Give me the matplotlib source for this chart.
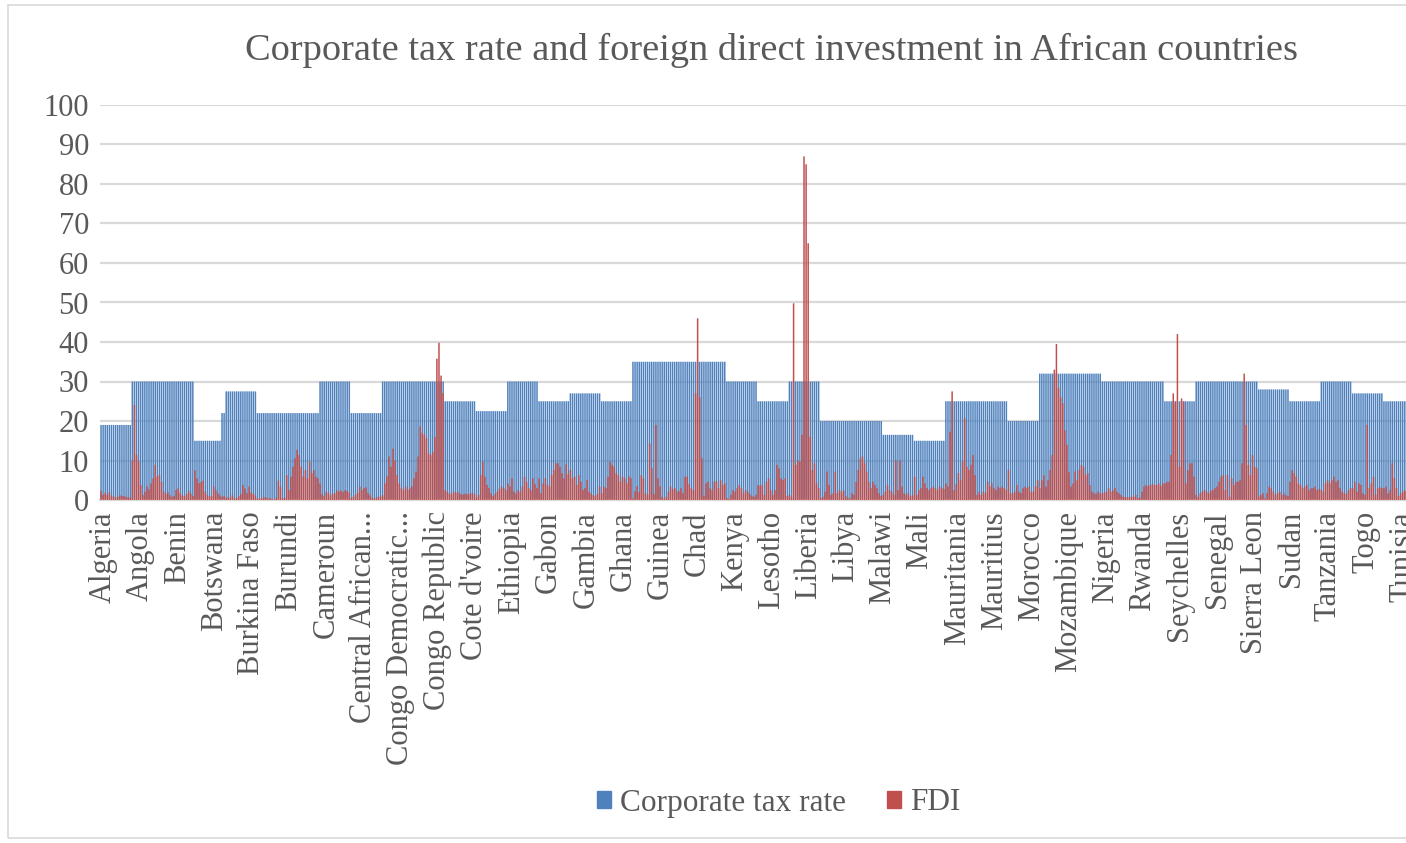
import matplotlib
matplotlib.use('Agg')
import matplotlib.pyplot as plt
from matplotlib.patches import Patch, Rectangle

plt.rcParams['font.family'] = ['Liberation Serif', 'DejaVu Serif']

# one block of 15 yearly bars per country
tax_rate = [
    [19] * 15, [30] * 15, [30] * 15, [15] * 13 + [22] * 2, [27.5] * 15,
    [22] * 15, [22] * 15, [30] * 15, [22] * 15, [30] * 15,
    [30] * 15, [25] * 15, [22.5] * 15, [30] * 15, [25] * 15,
    [27] * 15, [25] * 15, [35] * 15, [35] * 15, [35] * 15,
    [30] * 15, [25] * 15, [30] * 15, [20] * 15, [20] * 15,
    [16.5] * 15, [15] * 15, [25] * 15, [25] * 15, [20] * 15,
    [32] * 15, [32] * 15, [30] * 15, [30] * 15, [25] * 15,
    [30] * 15, [30] * 15, [28] * 15, [25] * 15, [30] * 15,
    [27] * 15, [25] * 15,
]

fdi = [
    [2.3, 1.3, 1.8, 1.3, 2.0, 1.1, 0.9, 0.6, 0.8, 1.2, 1.0, 1.0, 0.8, 0.7, 0.6],
    [10.0, 24.0, 11.4, 9.7, 3.8, 1.3, 2.1, 3.4, 2.7, 4.2, 5.5, 8.9, 5.9, 6.3, 4.6],
    [2.1, 1.5, 2.0, 1.2, 0.8, 1.0, 2.5, 3.0, 1.8, 1.2, 1.0, 1.5, 2.2, 1.6, 1.0],
    [7.5, 5.5, 4.2, 4.6, 4.9, 2.1, 1.3, 0.9, 1.0, 3.4, 2.5, 1.7, 1.2, 0.8, 1.0],
    [0.5, 0.8, 0.6, 1.2, 0.4, 0.5, 1.0, 1.5, 3.8, 2.9, 1.7, 3.4, 1.9, 1.6, 1.2],
    [0.4, 0.3, 0.5, 0.8, 0.6, 0.4, 0.5, 0.3, 0.2, 0.6, 4.9, 3.4, 0.5, 0.6, 6.3],
    [2.5, 5.9, 8.4, 10.5, 12.7, 11.4, 8.4, 5.9, 7.6, 5.5, 9.7, 6.8, 7.6, 5.9, 5.5],
    [4.2, 1.5, 1.0, 2.1, 1.8, 1.2, 1.6, 1.7, 2.4, 2.2, 2.4, 2.0, 2.5, 2.3, 1.9],
    [0.5, 0.8, 1.3, 1.8, 3.4, 2.5, 3.0, 3.2, 1.8, 1.2, 0.5, 0.4, 0.6, 0.8, 0.9],
    [1.2, 4.2, 6.0, 11.0, 8.4, 13.0, 10.0, 6.3, 4.2, 3.0, 2.5, 3.4, 2.6, 3.0, 3.5],
    [5.5, 7.2, 11.0, 18.6, 17.0, 16.5, 15.6, 11.8, 11.4, 12.2, 16.0, 35.8, 39.8, 31.5, 27.0],
    [2.5, 2.1, 1.7, 1.5, 2.1, 1.8, 2.0, 1.6, 1.4, 1.5, 1.6, 1.4, 1.6, 1.8, 1.5],
    [0.7, 1.3, 6.3, 9.7, 5.9, 3.8, 3.0, 1.7, 1.0, 1.5, 2.1, 2.8, 3.4, 3.0, 2.5],
    [4.2, 3.4, 5.5, 2.1, 1.7, 2.5, 2.1, 3.4, 5.9, 4.6, 3.0, 2.5, 5.5, 4.0, 3.0],
    [5.5, 1.7, 4.2, 5.5, 3.8, 3.4, 6.3, 7.6, 9.3, 9.3, 8.4, 6.8, 5.5, 9.0, 6.5],
    [7.6, 5.5, 5.9, 3.8, 6.3, 4.6, 2.5, 3.0, 5.0, 2.1, 1.7, 1.3, 1.0, 1.5, 3.4],
    [1.7, 3.4, 3.0, 5.9, 9.7, 8.9, 8.4, 6.8, 6.3, 4.6, 5.9, 5.5, 4.2, 6.0, 5.5],
    [0.4, 2.2, 3.5, 2.0, 6.3, 5.5, 1.7, 1.3, 14.3, 8.0, 1.5, 19.0, 5.5, 3.4, 0.8],
    [0.3, 0.8, 2.1, 3.4, 2.8, 3.0, 2.1, 2.3, 3.0, 1.7, 5.9, 5.9, 4.0, 3.0, 2.5],
    [27.0, 46.0, 26.0, 10.6, 1.0, 4.2, 4.6, 3.0, 2.5, 4.6, 4.8, 3.0, 5.0, 3.8, 4.2],
    [0.5, 0.3, 1.3, 2.5, 2.1, 3.0, 3.8, 3.0, 1.7, 2.5, 2.1, 1.5, 1.0, 0.8, 1.3],
    [3.8, 3.6, 3.8, 1.3, 4.6, 5.5, 2.5, 1.3, 2.5, 8.9, 8.0, 5.5, 5.0, 5.5, 1.0],
    [1.3, 0.8, 49.8, 8.9, 10.0, 9.7, 16.5, 87.0, 85.0, 65.0, 16.0, 7.6, 9.3, 4.2, 3.0],
    [0.5, 0.8, 2.1, 7.2, 3.8, 1.3, 1.7, 7.2, 1.7, 2.5, 2.1, 2.4, 1.0, 0.5, 0.4],
    [1.7, 1.3, 4.6, 7.6, 10.5, 11.0, 9.3, 7.2, 4.6, 3.0, 4.6, 3.8, 3.0, 1.7, 1.0],
    [1.3, 2.1, 3.8, 2.5, 2.1, 1.3, 10.0, 2.5, 10.0, 3.4, 1.7, 1.3, 1.7, 0.9, 1.2],
    [5.9, 1.3, 2.5, 3.0, 5.9, 4.2, 3.0, 2.5, 3.0, 3.4, 3.0, 2.6, 3.4, 3.0, 2.8],
    [4.2, 3.4, 17.3, 27.5, 2.5, 4.0, 6.8, 5.0, 9.7, 20.7, 8.4, 7.6, 8.9, 11.4, 6.3],
    [1.3, 2.1, 1.3, 2.1, 1.8, 4.6, 3.4, 4.2, 3.0, 2.5, 3.4, 3.0, 3.4, 3.0, 2.6],
    [7.6, 1.7, 1.7, 2.1, 3.8, 2.1, 1.7, 3.0, 3.4, 3.0, 3.4, 2.1, 2.1, 3.5, 5.0],
    [3.0, 5.0, 6.3, 3.4, 5.0, 7.6, 11.4, 33.0, 39.5, 28.3, 26.0, 24.5, 17.7, 14.0, 7.0],
    [3.4, 4.2, 7.2, 5.0, 7.6, 8.9, 8.4, 6.3, 6.8, 3.8, 2.1, 1.7, 1.5, 2.1, 1.7],
    [1.7, 1.9, 2.1, 3.0, 2.1, 2.5, 3.0, 2.1, 1.7, 1.3, 0.8, 0.8, 0.6, 0.8, 0.8],
    [0.8, 1.3, 0.5, 0.6, 2.1, 3.4, 3.8, 3.5, 3.8, 4.0, 3.8, 3.8, 4.2, 3.6, 4.2],
    [4.2, 4.6, 4.6, 11.4, 27.0, 24.9, 42.0, 8.4, 25.7, 24.9, 4.2, 7.6, 9.3, 9.3, 5.9],
    [1.3, 0.8, 1.7, 2.1, 2.5, 2.1, 1.7, 2.4, 2.5, 3.0, 3.4, 4.6, 5.9, 6.3, 2.5],
    [6.3, 0.8, 5.5, 3.8, 4.6, 4.6, 5.0, 9.3, 32.0, 19.0, 8.9, 6.3, 11.4, 8.4, 8.0],
    [0.8, 1.3, 1.7, 0.4, 1.7, 3.4, 3.0, 2.1, 1.3, 1.7, 2.1, 1.3, 1.7, 1.2, 1.0],
    [4.6, 7.6, 6.8, 5.9, 4.2, 3.8, 3.0, 3.4, 3.8, 2.5, 3.0, 3.0, 3.4, 2.5, 2.8],
    [2.6, 2.1, 4.2, 5.0, 4.2, 5.0, 5.9, 4.6, 5.0, 3.0, 2.1, 1.7, 1.6, 2.5, 3.0],
    [3.0, 4.6, 2.1, 4.2, 3.8, 1.7, 1.3, 19.0, 3.0, 4.2, 5.9, 1.3, 3.0, 3.2, 3.0],
    [3.0, 3.4, 1.7, 2.5, 9.3, 5.6, 3.0, 1.0, 1.7, 2.1, 2.4, 2.0, 2.0, 2.0, 2.0],
]

# category labels that Excel shows along the axis
tick_labels = ['Algeria', 'Angola', 'Benin', 'Botswana', 'Burkina Faso', 'Burundi',
               'Cameroun', 'Central African...', 'Congo Democratic...', 'Congo Republic',
               "Cote d'voire", 'Ethiopia', 'Gabon', 'Gambia', 'Ghana', 'Guinea', 'Chad',
               'Kenya', 'Lesotho', 'Liberia', 'Libya', 'Malawi', 'Mali', 'Mauritania',
               'Mauritius', 'Morocco', 'Mozambique', 'Nigeria', 'Rwanda', 'Seychelles',
               'Senegal', 'Sierra Leon', 'Sudan', 'Tanzania', 'Togo', 'Tunisia']

tax_all = [v for block in tax_rate for v in block]
fdi_all = [v for block in fdi for v in block]
x = list(range(len(tax_all)))

W, H = 1406, 843
fig = plt.figure(figsize=(W / 100, H / 100), dpi=100)
slot = 31.29 / 15
n_slots = 645
ax = fig.add_axes([100 / W, (H - 500) / H, n_slots * slot / W, 395 / H])

text_col = '#595959'
grid_col = '#D9D9D9'

blue = ax.bar(x, tax_all, width=0.72, color='#4F81BD', linewidth=0, zorder=2)
red = ax.bar(x, fdi_all, width=0.72, color='#C0504D', linewidth=0, zorder=3)
for p in list(blue) + list(red):
    p.set_snap(False)

ax.set_xlim(-0.5, n_slots - 0.5)
ax.set_ylim(0, 100)
ax.set_yticks(range(0, 101, 10))
ax.yaxis.grid(True, color=grid_col, linewidth=1.6, zorder=0)
ax.set_axisbelow(True)
for s in ['top', 'right', 'left']:
    ax.spines[s].set_visible(False)
ax.spines['bottom'].set_color(grid_col)
ax.spines['bottom'].set_linewidth(1.6)

ax.set_xticks([1 + 17.8 * i for i in range(len(tick_labels))])
ax.set_xticklabels(tick_labels, rotation=90, fontsize=22, color=text_col)
ax.tick_params(axis='both', length=0)
ax.tick_params(axis='x', pad=8)
ax.tick_params(axis='y', labelsize=22, labelcolor=text_col, pad=8)

fig.text(0.549, 1 - 50 / H, 'Corporate tax rate and foreign direct investment in African countries',
         ha='center', va='center', fontsize=27.6, color=text_col)

handles = [Patch(color='#4F81BD', label='Corporate tax rate'), Patch(color='#C0504D', label='FDI')]
fig.legend(handles=handles, loc='center', bbox_to_anchor=(779 / W, 1 - 803 / H), ncol=2,
           frameon=False, fontsize=22.5, labelcolor=text_col, handlelength=0.45, handleheight=0.45,
           handletextpad=0.3, columnspacing=1.3)

fig.patches.append(Rectangle((8 / W, 5 / H), 1.1, 833 / H, transform=fig.transFigure,
                             fill=False, edgecolor=grid_col, linewidth=1.2))

fig.savefig('out.png', dpi=100)
